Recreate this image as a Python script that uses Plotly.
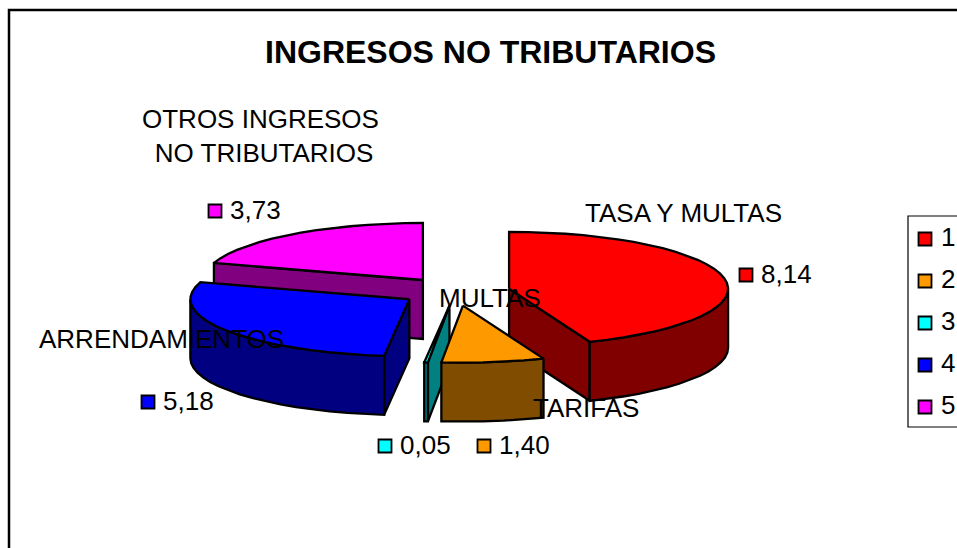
import math
import plotly.graph_objects as go

# ---- data ----
series_ids = ["1", "2", "3", "4", "5"]
slice_names = ["TASA Y MULTAS", "TARIFAS", "MULTAS", "ARRENDAMIENTOS", "OTROS INGRESOS<br> NO TRIBUTARIOS"]
values = [8.14, 1.40, 0.05, 5.18, 3.73]
top_colors = ["#FF0000", "#FF9900", "#00FFFF", "#0000FF", "#FF00FF"]
side_colors = ["#800000", "#804D00", "#008080", "#000080", "#800080"]
title_text = "INGRESOS NO TRIBUTARIOS"

# ---- layout of the chart (pixels) ----
W, H = 957, 548
CX, CY = 455.3, 291.5      # pie centre
RX, RY = 219.0, 57.0       # ellipse radii of top face
DEPTH = 59.0               # pie thickness
EXPLODE = 0.25             # explosion, fraction of radius
ARC_STEP = 5.0             # degrees
OUTLINE = 2.3

name_pos = [(683, 213), (586, 408), (490, 298), (161, 339), (260, 136)]
key_pos = [(746, 275), (484, 446), (385, 446), (148, 402), (215, 211)]
legend_key_y = [239, 281, 323, 365, 407]
LEGEND_KEY_X = 925
LEGEND_TEXT_X = 941
FONT = "Liberation Sans, Arial, sans-serif"


def pt(center, ang, dz=0.0):
    a = math.radians(ang)
    return center[0] + RX * math.sin(a), center[1] - RY * math.cos(a) + dz


def arc(center, a0, a1, dz=0.0):
    n = max(1, int(round(abs(a1 - a0) / ARC_STEP)))
    return [pt(center, a0 + (a1 - a0) * i / n, dz) for i in range(n + 1)]


def poly(points, fill, name):
    xs = [p[0] for p in points] + [points[0][0]]
    ys = [p[1] for p in points] + [points[0][1]]
    return go.Scatter(x=xs, y=ys, mode="lines", fill="toself", fillcolor=fill,
                      line=dict(color="black", width=OUTLINE), name=name,
                      hoverinfo="skip", showlegend=False)


total = sum(values)
slices = []
start = 0.0
for i, v in enumerate(values):
    end = start + v / total * 360.0
    mid = math.radians((start + end) / 2)
    center = (CX + EXPLODE * RX * math.sin(mid), CY - EXPLODE * RY * math.cos(mid))
    slices.append(dict(i=i, start=start, end=end, center=center))
    start = end

fig = go.Figure()
draw_order = [0, 4, 3, 2, 1]  # back to front
for i in draw_order:
    s = slices[i]
    c, a0, a1 = s["center"], s["start"], s["end"]
    top, side = top_colors[i], side_colors[i]
    below = (c[0], c[1] + DEPTH)
    # radial walls that face the viewer
    if 180 < a0 < 360:
        fig.add_trace(poly([c, pt(c, a0), pt(c, a0, DEPTH), below], side, f"wall {i}"))
    if 0 < a1 < 180:
        fig.add_trace(poly([c, pt(c, a1), pt(c, a1, DEPTH), below], side, f"wall {i}"))
    # outer wall (front half only)
    w0, w1 = max(a0, 90.0), min(a1, 270.0)
    if w1 > w0:
        fig.add_trace(poly(arc(c, w0, w1) + arc(c, w1, w0, DEPTH), side, f"rim {i}"))
    # top face
    fig.add_trace(poly([c] + arc(c, a0, a1), top, f"top {i}"))

# value keys next to the slices
fig.add_trace(go.Scatter(
    x=[p[0] for p in key_pos], y=[p[1] for p in key_pos], mode="markers",
    marker=dict(symbol="square", size=13, color=top_colors, line=dict(color="black", width=1.8)),
    hoverinfo="skip", showlegend=False))
# legend keys
fig.add_trace(go.Scatter(
    x=[LEGEND_KEY_X] * len(series_ids), y=legend_key_y, mode="markers",
    marker=dict(symbol="square", size=13, color=top_colors, line=dict(color="black", width=1.8)),
    hoverinfo="skip", showlegend=False))

ann = []
def label(x, y, text, anchor="center", size=26, bold=False):
    ann.append(dict(x=x, y=y, xref="x", yref="y", text=f"<b>{text}</b>" if bold else text,
                    showarrow=False, xanchor=anchor, yanchor="middle", align="center",
                    font=dict(family=FONT, size=size, color="black")))

label(490, 52, title_text, size=32, bold=True)
for (x, y), name in zip(name_pos, slice_names):
    label(x, y, name)
for (x, y), v in zip(key_pos, values):
    label(x + 13, y - 1, f"{v:.2f}".replace(".", ","), anchor="left")
for y, sid in zip(legend_key_y, series_ids):
    label(LEGEND_TEXT_X - 2, y - 2, sid, anchor="left")

fig.update_layout(
    width=W, height=H, margin=dict(l=0, r=0, t=0, b=0),
    paper_bgcolor="white", plot_bgcolor="white", showlegend=False,
    xaxis=dict(range=[0, W], visible=False, fixedrange=True),
    yaxis=dict(range=[H, 0], visible=False, fixedrange=True),
    annotations=ann,
    shapes=[
        dict(type="rect", xref="x", yref="y", x0=9, y0=10, x1=W + 20, y1=H + 20,
             line=dict(color="black", width=2.5), layer="below"),
        dict(type="rect", xref="x", yref="y", x0=908, y0=216, x1=W + 20, y1=427,
             line=dict(color="black", width=1.2), layer="below"),
    ],
)
fig.write_html("out.html", config={"displayModeBar": False},
               post_script="document.body.style.margin='0';")
